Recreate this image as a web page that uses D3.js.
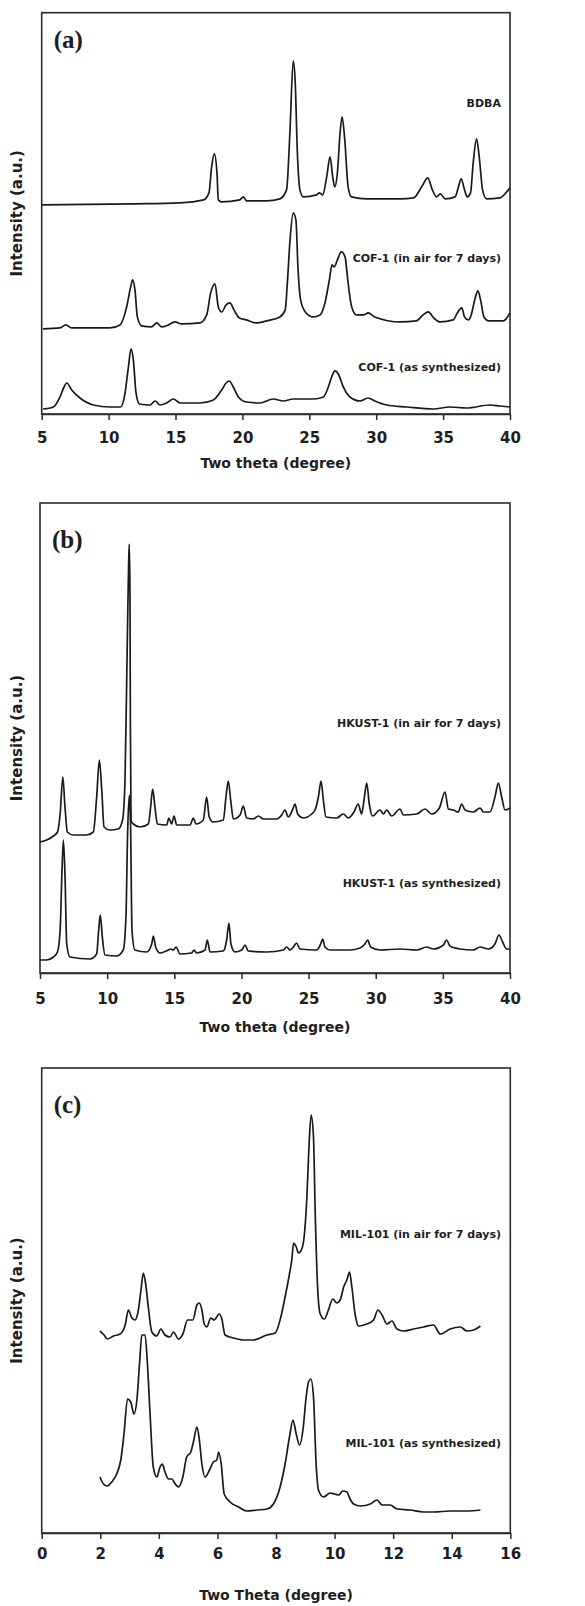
<!DOCTYPE html>
<html>
<head>
<meta charset="utf-8">
<script src="https://cdn.jsdelivr.net/npm/d3@7"></script>
<style>
  body { margin: 0; background: #fff; }
  svg text { font-family: "DejaVu Sans", Verdana, sans-serif; font-weight: bold; fill: #1e1e1e; }
</style>
</head>
<body>
<script>
// [two theta, intensity (a.u.)] pairs
const bdba = [[5.0,209],[11.85,210],[15.3,211],[17.1,214],[17.5,221],[17.7,247],[17.9,260],[18.1,241],[18.2,214],[18.45,212],[19.8,214],[20.07,217],[20.3,213],[21.8,213],[22.8,215],[23.3,224],[23.55,281],[23.8,353],[23.95,331],[24.1,264],[24.3,224],[24.55,217],[25.55,219],[25.75,221],[26.0,219],[26.3,237],[26.55,257],[26.75,237],[26.9,227],[27.1,241],[27.3,281],[27.45,297],[27.65,274],[27.9,227],[28.15,217],[29.3,215],[31.8,215],[32.8,216],[33.4,227],[33.85,236],[34.2,224],[34.5,217],[34.8,220],[35.15,215],[35.9,217],[36.15,227],[36.35,235],[36.6,224],[36.8,217],[37.05,221],[37.25,251],[37.5,275],[37.7,257],[37.95,224],[38.25,215],[39.25,216],[39.75,222],[40.0,226]];
const cofAir = [[5.1,85],[6.37,86],[6.8,89],[7.24,86],[10.1,86],[10.85,89],[11.35,107],[11.65,127],[11.8,134],[11.97,124],[12.15,97],[12.47,88],[13.2,87],[13.6,91],[13.97,87],[14.47,89],[14.96,92],[15.46,90],[16.83,91],[17.33,99],[17.63,121],[17.95,130],[18.2,107],[18.45,102],[18.78,109],[19.07,111],[19.37,104],[19.77,96],[20.3,94],[21.07,91],[21.8,93],[22.8,97],[23.2,104],[23.36,131],[23.56,174],[23.8,201],[24.0,194],[24.15,147],[24.35,114],[24.7,102],[25.3,97],[25.8,99],[26.17,111],[26.5,134],[26.7,149],[26.87,147],[27.1,154],[27.4,162],[27.67,157],[27.9,131],[28.17,107],[28.54,99],[29.04,99],[29.4,101],[29.9,97],[31.8,92],[33.0,93],[33.5,99],[33.9,102],[34.3,96],[34.77,92],[35.76,94],[36.06,101],[36.4,106],[36.6,97],[36.9,94],[37.1,99],[37.4,116],[37.6,123],[37.8,114],[38.05,97],[38.4,93],[39.5,93],[39.86,98],[40.0,101]];
const cofSyn = [[5.1,5],[5.87,7],[6.37,17],[6.67,27],[6.87,31],[7.24,24],[7.86,16],[8.86,9],[10.1,7],[10.9,7],[11.23,21],[11.48,47],[11.68,65],[11.85,54],[12.05,21],[12.3,10],[13.1,9],[13.47,13],[13.84,9],[14.34,11],[14.84,15],[15.34,11],[16.83,11],[17.83,14],[18.45,24],[18.78,31],[19.02,33],[19.32,27],[19.7,17],[20.3,12],[21.3,11],[22.3,15],[23.06,13],[23.8,15],[25.3,15],[26.05,17],[26.42,27],[26.67,37],[26.92,43],[27.17,40],[27.54,27],[28.04,17],[28.79,13],[29.4,16],[29.9,13],[30.78,9],[32.27,7],[34.27,5],[35.5,7],[36.76,6],[38.5,9],[39.25,8],[40.0,7]];

const hkustAir = [[5.0,131],[5.5,133],[6.0,137],[6.3,141],[6.5,159],[6.7,196],[6.86,166],[7.04,141],[7.48,138],[8.47,138],[8.97,141],[9.22,176],[9.42,213],[9.6,183],[9.77,146],[10.2,143],[10.83,144],[11.15,153],[11.33,193],[11.5,330],[11.6,410],[11.65,429],[11.7,380],[11.73,250],[11.78,152],[11.95,149],[12.45,146],[13.07,149],[13.24,166],[13.39,184],[13.56,166],[13.74,149],[14.43,148],[14.6,155],[14.8,149],[14.98,157],[15.18,148],[16.17,148],[16.42,155],[16.62,149],[17.16,153],[17.41,176],[17.6,156],[17.9,151],[18.65,153],[18.85,176],[19.02,192],[19.2,173],[19.4,154],[19.9,158],[20.14,167],[20.39,155],[20.89,154],[21.26,157],[21.63,154],[22.62,154],[23.0,158],[23.24,163],[23.49,156],[23.8,163],[23.99,169],[24.19,159],[24.6,155],[25.23,159],[25.48,163],[25.73,176],[25.93,192],[26.1,173],[26.3,156],[27.09,155],[27.59,159],[27.96,155],[28.38,161],[28.7,169],[28.95,159],[29.13,173],[29.33,190],[29.52,169],[29.77,157],[30.32,163],[30.57,159],[30.82,163],[31.19,157],[31.81,164],[32.06,158],[33.05,159],[33.67,164],[34.17,159],[34.74,165],[35.16,181],[35.41,164],[35.78,163],[36.15,161],[36.4,169],[36.65,163],[37.27,161],[37.77,165],[38.02,161],[38.51,161],[38.88,176],[39.13,190],[39.38,176],[39.63,163],[40.0,165]];
const hkustSyn = [[5.0,13],[5.5,13],[6.0,16],[6.3,21],[6.5,43],[6.64,103],[6.74,133],[6.86,99],[6.99,29],[7.23,16],[8.72,14],[9.22,19],[9.37,43],[9.49,58],[9.64,36],[9.84,18],[10.71,17],[11.2,23],[11.4,56],[11.53,143],[11.65,178],[11.75,143],[11.85,43],[12.07,23],[12.94,21],[13.32,29],[13.44,37],[13.61,26],[13.94,20],[14.56,23],[14.73,24],[14.93,23],[15.13,26],[15.43,19],[16.29,20],[16.47,23],[16.67,20],[17.29,23],[17.46,33],[17.66,21],[18.65,22],[18.9,33],[19.07,50],[19.22,29],[19.52,21],[20.02,23],[20.27,28],[20.51,22],[21.88,21],[23.12,23],[23.37,26],[23.62,23],[23.87,26],[24.11,30],[24.36,24],[25.6,23],[25.9,29],[26.05,34],[26.22,26],[26.6,23],[28.09,23],[28.83,25],[29.2,29],[29.4,33],[29.62,26],[30.32,23],[31.81,24],[33.05,23],[33.8,26],[34.29,24],[35.04,28],[35.28,33],[35.53,27],[36.28,24],[37.27,23],[37.77,26],[38.39,24],[38.88,29],[39.18,38],[39.45,31],[39.75,24],[40.0,24]];

const milAir = [[1.99,202],[2.13,198],[2.24,194],[2.45,197],[2.68,199],[2.85,208],[2.96,223],[3.08,215],[3.19,213],[3.3,223],[3.39,243],[3.47,260],[3.55,249],[3.64,226],[3.76,201],[3.93,197],[4.07,204],[4.21,198],[4.38,196],[4.5,201],[4.67,194],[4.82,199],[4.98,213],[5.16,213],[5.3,228],[5.38,230],[5.47,223],[5.55,209],[5.64,206],[5.77,215],[5.89,213],[6.06,219],[6.15,214],[6.26,198],[6.55,195],[6.89,193],[7.23,193],[7.69,198],[7.97,200],[8.14,213],[8.31,236],[8.46,259],[8.54,273],[8.6,290],[8.69,286],[8.77,280],[8.88,284],[8.96,296],[9.05,333],[9.13,389],[9.2,418],[9.28,396],[9.34,319],[9.42,246],[9.51,219],[9.65,214],[9.79,223],[9.94,234],[10.08,230],[10.19,233],[10.31,246],[10.42,253],[10.51,261],[10.59,246],[10.7,219],[10.82,207],[11.1,209],[11.33,213],[11.48,223],[11.62,218],[11.79,209],[11.96,212],[12.13,204],[12.36,202],[12.7,204],[13.04,206],[13.38,208],[13.61,199],[13.95,204],[14.29,206],[14.52,202],[14.75,203],[14.98,207]];
const milSyn = [[1.99,56],[2.11,49],[2.24,47],[2.39,51],[2.56,59],[2.7,73],[2.81,99],[2.93,134],[3.04,131],[3.15,119],[3.25,133],[3.34,169],[3.42,198],[3.53,198],[3.61,169],[3.7,119],[3.81,66],[3.93,56],[4.04,66],[4.12,69],[4.21,61],[4.33,54],[4.44,54],[4.56,49],[4.67,46],[4.82,56],[4.95,76],[5.09,81],[5.18,91],[5.3,106],[5.38,94],[5.47,69],[5.58,56],[5.73,63],[5.86,71],[5.98,73],[6.04,81],[6.13,69],[6.23,39],[6.43,31],[6.72,26],[7.0,22],[7.35,23],[7.69,24],[7.91,29],[8.14,46],[8.31,69],[8.46,96],[8.58,113],[8.69,99],[8.8,88],[8.92,103],[9.03,136],[9.11,151],[9.19,154],[9.28,136],[9.37,69],[9.45,43],[9.62,36],[9.85,40],[10.0,39],[10.14,38],[10.28,42],[10.42,41],[10.53,34],[10.65,29],[10.88,27],[11.22,29],[11.45,33],[11.62,28],[11.9,28],[12.13,24],[12.58,23],[13.04,21],[13.38,21],[13.95,22],[14.52,22],[14.98,23]];

const ticksAB = [5, 10, 15, 20, 25, 30, 35, 40];
const ticksC = [0, 2, 4, 6, 8, 10, 12, 14, 16];
const labelsA = ["BDBA", "COF-1 (in air for 7 days)", "COF-1 (as synthesized)"];
const labelsB = ["HKUST-1 (in air for 7 days)", "HKUST-1 (as synthesized)"];
const labelsC = ["MIL-101 (in air for 7 days)", "MIL-101 (as synthesized)"];

const W = 585, H = 1606;
const svg = d3.select("body").append("svg")
  .attr("width", W)
  .attr("height", H);

const panels = [
  { tag: "(a)", tagY: 48, left: 41.7, right: 510, top: 12.7, bottom: 414, yMax: 401,
    xDomain: [5, 40], ticks: ticksAB, pad: 12, xTitle: "Two theta (degree)", xTitleY: 468,
    series: [bdba, cofAir, cofSyn], labels: labelsA, labelY: [107, 262, 371] },
  { tag: "(b)", tagY: 548, left: 40, right: 510, top: 503, bottom: 973, yMax: 470,
    xDomain: [5, 40], ticks: ticksAB, pad: 14, xTitle: "Two theta (degree)", xTitleY: 1032,
    series: [hkustAir, hkustSyn], labels: labelsB, labelY: [727, 887] },
  { tag: "(c)", tagY: 1113, left: 41.7, right: 510.3, top: 1068, bottom: 1533, yMax: 465,
    xDomain: [0, 16], ticks: ticksC, pad: 9, xTitle: "Two Theta (degree)", xTitleY: 1600,
    series: [milAir, milSyn], labels: labelsC, labelY: [1238, 1447] }
];

panels.forEach(p => drawPanel(p));

function drawPanel(p) {
  const x = d3.scaleLinear().domain(p.xDomain).range([p.left, p.right]);
  const y = d3.scaleLinear().domain([0, p.yMax]).range([p.bottom, p.top]);
  const g = svg.append("g");

  g.append("rect")
    .attr("x", p.left)
    .attr("y", p.top)
    .attr("width", p.right - p.left)
    .attr("height", p.bottom - p.top)
    .attr("fill", "none")
    .attr("stroke", "#2a2a2a")
    .attr("stroke-width", 1.6);

  const ax = g.append("g")
    .attr("transform", `translate(0,${p.bottom})`)
    .call(d3.axisBottom(x).tickValues(p.ticks).tickSize(6).tickSizeOuter(0).tickPadding(p.pad));
  ax.select(".domain").attr("stroke", "#2a2a2a").attr("stroke-width", 1.6);
  ax.selectAll(".tick line").attr("stroke", "#2a2a2a").attr("stroke-width", 1.5);
  ax.selectAll(".tick text")
    .style("font-size", "15px")
    .style("font-family", '"DejaVu Sans", Verdana, sans-serif')
    .style("font-weight", "bold")
    .attr("fill", "#1e1e1e");

  const line = d3.line()
    .x(d => x(d[0]))
    .y(d => y(d[1]))
    .curve(d3.curveMonotoneX);

  p.series.forEach(s => {
    g.append("path")
      .datum(s)
      .attr("d", line)
      .attr("fill", "none")
      .attr("stroke", "#1a1a1a")
      .attr("stroke-width", 1.7)
      .attr("stroke-linejoin", "round");
  });

  p.labels.forEach((t, i) => {
    g.append("text")
      .attr("x", 501)
      .attr("y", p.labelY[i])
      .attr("text-anchor", "end")
      .style("font-size", "11px")
      .text(t);
  });

  g.append("text")
    .attr("x", p.left + 12)
    .attr("y", p.tagY)
    .style("font-family", '"Liberation Serif", "Times New Roman", serif')
    .style("font-size", "25px")
    .text(p.tag);

  g.append("text")
    .attr("x", (p.left + p.right) / 2)
    .attr("y", p.xTitleY)
    .attr("text-anchor", "middle")
    .style("font-size", "14px")
    .text(p.xTitle);

  g.append("text")
    .attr("transform", `translate(22,${(p.top + p.bottom) / 2}) rotate(-90)`)
    .attr("text-anchor", "middle")
    .style("font-size", "15px")
    .text("Intensity (a.u.)");
}
</script>
</body>
</html>
